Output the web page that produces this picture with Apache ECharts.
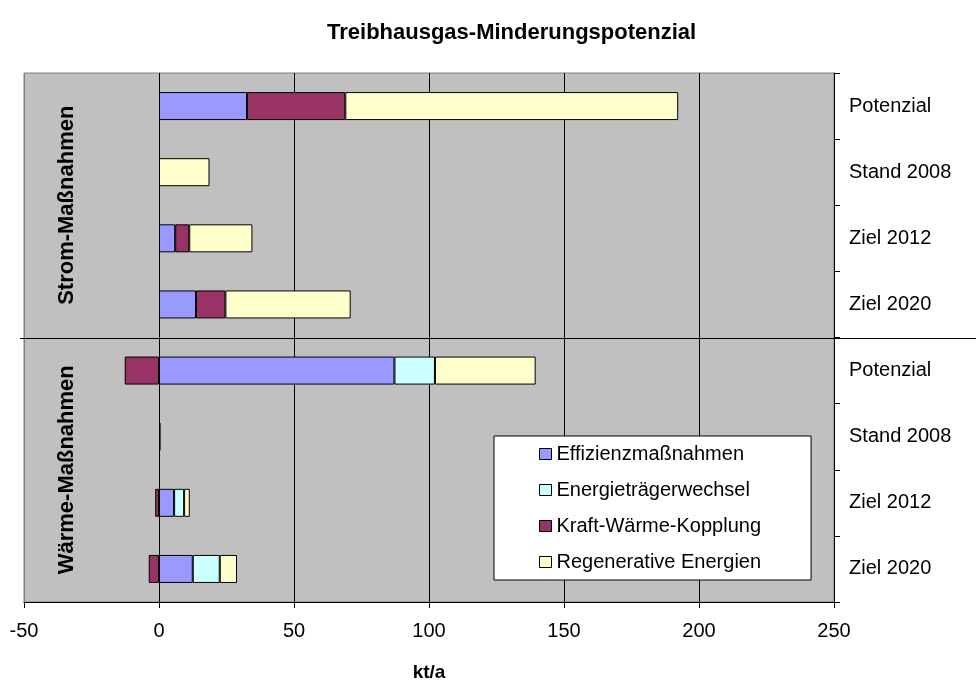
<!DOCTYPE html>
<html>
<head>
<meta charset="utf-8">
<title>Treibhausgas-Minderungspotenzial</title>
<script src="https://cdn.jsdelivr.net/npm/echarts@6/dist/echarts.min.js"></script>
<style>
html, body { margin: 0; padding: 0; background: #fff; }
#myChart { width: 976px; height: 687px; }
</style>
</head>
<body>
<div id="myChart"></div>
<script>
// 数据
let groups = ["Strom-Maßnahmen", "Wärme-Maßnahmen"];
let categories = ["Potenzial", "Stand 2008", "Ziel 2012", "Ziel 2020",
                  "Potenzial", "Stand 2008", "Ziel 2012", "Ziel 2020"];
let seriesNames = ["Effizienzmaßnahmen", "Energieträgerwechsel", "Kraft-Wärme-Kopplung", "Regenerative Energien"];
let effizienz = [32.6, "-", 6.0, 13.7, 87.2, 0.6, 5.6, 12.5];
let traegerwechsel = ["-", "-", "-", "-", 15.0, "-", 3.7, 10.0];
let kwk = [36.4, "-", 5.2, 10.9, -12.7, "-", -1.4, -3.8];
let regenerativ = [123.3, 18.7, 23.4, 46.4, 37.3, "-", 2.1, 6.4];
let xTicks = [-50, 0, 50, 100, 150, 200, 250];

let colors = ["#9999ff", "#ccffff", "#993366", "#ffffcc"];
let font = "'Liberation Sans', Arial, sans-serif";

// 类目名可能重复，用序号区分
let yData = categories.map((c, i) => i + "|" + c);

let chart = echarts.init(document.getElementById("myChart"));

let seriesArr = [effizienz, traegerwechsel, kwk, regenerativ].map((d, i) => ({
    name: seriesNames[i],
    type: "bar",
    stack: "total",
    barWidth: 28,
    data: d,
    itemStyle: {
        color: colors[i],
        borderColor: "#000",
        borderWidth: 1
    }
}));

let option = {
    animation: false,
    backgroundColor: "#fff",
    title: {
        text: "Treibhausgas-Minderungspotenzial",
        left: 322,
        top: 17,
        textStyle: {
            fontFamily: font,
            fontSize: 22,
            fontWeight: "bold",
            color: "#000"
        }
    },
    grid: {
        left: 24,
        right: 142,
        top: 73,
        bottom: 82,
        show: true,
        backgroundColor: "#c0c0c0",
        borderColor: "#808080",
        borderWidth: 1
    },
    legend: {
        orient: "vertical",
        left: 494,
        top: 436,
        icon: "rect",
        itemWidth: 12,
        itemHeight: 11,
        itemGap: 16,
        padding: [8, 50, 8, 45],
        backgroundColor: "#fff",
        borderColor: "#000",
        borderWidth: 1,
        itemStyle: {
            borderColor: "#000",
            borderWidth: 1
        },
        textStyle: {
            fontFamily: font,
            fontSize: 20,
            color: "#000"
        },
        data: seriesNames
    },
    xAxis: {
        type: "value",
        min: xTicks[0],
        max: xTicks[xTicks.length - 1],
        interval: 50,
        name: "kt/a",
        nameLocation: "middle",
        nameGap: 61,
        nameTextStyle: {
            fontFamily: font,
            fontSize: 19,
            fontWeight: "bold",
            color: "#000"
        },
        axisLine: {
            show: true,
            lineStyle: { color: "#000", width: 1 }
        },
        axisTick: {
            show: true,
            length: 6,
            lineStyle: { color: "#000" }
        },
        axisLabel: {
            fontFamily: font,
            fontSize: 20,
            color: "#000",
            margin: 19
        },
        splitLine: {
            show: true,
            lineStyle: {
                color: ["#808080", "#000", "#000", "#000", "#000", "#000", "#000"],
                width: 1
            }
        }
    },
    yAxis: {
        type: "category",
        position: "right",
        inverse: true,
        data: yData,
        axisLine: {
            show: true,
            onZero: false,
            lineStyle: { color: "#000", width: 1 }
        },
        axisTick: {
            show: true,
            length: 6,
            lineStyle: { color: "#000" }
        },
        axisLabel: {
            fontFamily: font,
            fontSize: 20,
            color: "#000",
            margin: 15,
            formatter: (v) => v.split("|")[1]
        },
        splitLine: { show: false }
    },
    series: seriesArr
};

chart.setOption(option);

// 分组分隔线和左侧分组标题
let yPos = (i) => chart.convertToPixel({ yAxisIndex: 0 }, i);
let sepY = Math.round((yPos(3) + yPos(4)) / 2) + 0.5;
let groupText = (txt, cy) => ({
    type: "text",
    x: 67,
    y: cy,
    rotation: Math.PI / 2,
    z: 100,
    style: {
        text: txt,
        fontFamily: font,
        fontSize: 22,
        fontWeight: "bold",
        fill: "#000",
        align: "center",
        verticalAlign: "middle"
    }
});

chart.setOption({
    graphic: [
        {
            type: "line",
            z: 100,
            shape: { x1: 20, y1: sepY, x2: 976, y2: sepY },
            style: { stroke: "#000", lineWidth: 1 }
        },
        groupText(groups[0], (yPos(0) + yPos(3)) / 2),
        groupText(groups[1], (yPos(4) + yPos(7)) / 2)
    ]
});
</script>
</body>
</html>
